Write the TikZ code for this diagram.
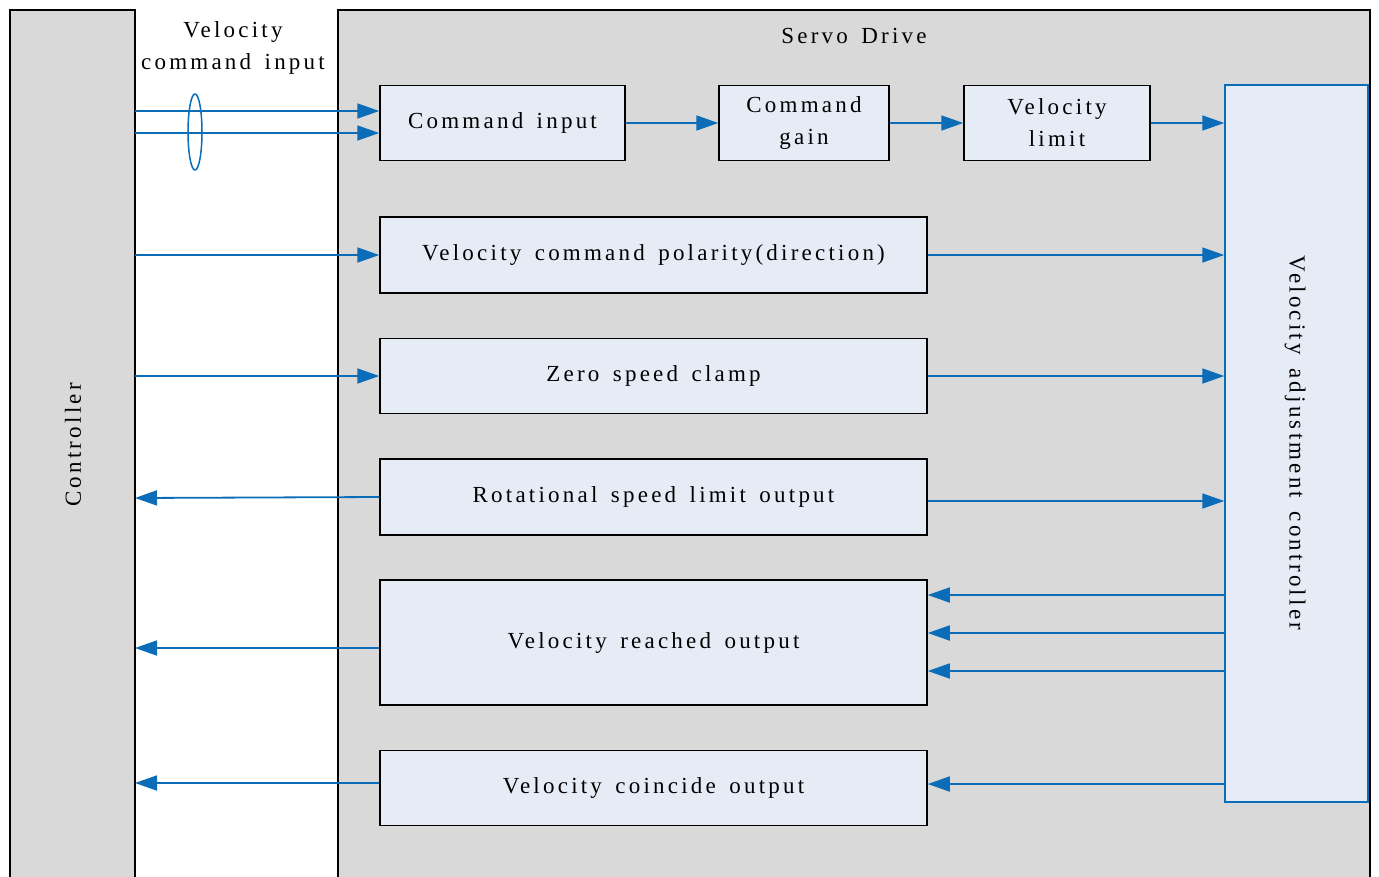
\documentclass[tikz,border=0pt]{standalone}
\usepackage{fontspec}
\setmainfont{Liberation Serif}[LetterSpace=14,WordSpace=1.5]
\usetikzlibrary{arrows.meta}
\definecolor{ablue}{HTML}{0B6DB7}
\definecolor{bfill}{HTML}{E6ECF6}
\definecolor{gfill}{HTML}{D9D9D9}
\tikzset{
  panel/.style={draw=black, line width=1.3pt, fill=gfill},
  blk/.style={draw=black, line width=1.5pt, fill=bfill, font=\fontsize{23}{32}\selectfont, align=center},
  sig/.style={draw=ablue, line width=1.8pt, -{Triangle[length=22pt,width=15pt]}},
  lbl/.style={font=\fontsize{23}{32}\selectfont, align=center}
}
\begin{document}
\begin{tikzpicture}[x=1pt,y=-1pt]
\useasboundingbox (0,0) rectangle (1379,876);
% panels
\draw[panel] (10,10) rectangle (135,890);
\draw[panel] (338,10) rectangle (1370,890);
\node[lbl, rotate=90] (ctrl) at (73,445) {Controller};
\node[lbl] (sd) at (854,36) {Servo Drive};
\node[lbl] (vci) at (233,48) {Velocity\\command input};
% blocks
\node[blk, minimum width=245pt, minimum height=75pt] (ci) at (502.5,123) {Command input};
\node[blk, minimum width=170pt, minimum height=75pt] (cg) at (804,123) {Command\\gain};
\node[blk, minimum width=186pt, minimum height=75pt] (vl) at (1057,123) {Velocity\\limit};
\node[blk, draw=ablue, minimum width=143pt, minimum height=717pt] (vac) at (1296.5,443.5) {};
\node[lbl, rotate=-90] (vact) at (1295,443) {Velocity adjustment controller};
\node[blk, minimum width=547pt, minimum height=76pt] (pol) at (653.5,255) {Velocity command polarity(direction)};
\node[blk, minimum width=547pt, minimum height=75pt] (zsc) at (653.5,376) {Zero speed clamp};
\node[blk, minimum width=547pt, minimum height=76pt] (rsl) at (653.5,497) {Rotational speed limit output};
\node[blk, minimum width=547pt, minimum height=125pt] (vro) at (653.5,642.5) {Velocity reached output};
\node[blk, minimum width=547pt, minimum height=75pt] (vco) at (653.5,788) {Velocity coincide output};
% coordinates on controller edge
\coordinate (c1) at (135,111);
\coordinate (c2) at (135,133);
\coordinate (c3) at (135,255);
\coordinate (c4) at (135,376);
\coordinate (c5) at (135,498);
\coordinate (c6) at (135,648);
\coordinate (c7) at (135,783);
% inputs
\draw[sig] (c1) -- (c1 -| ci.west);
\draw[sig] (c2) -- (c2 -| ci.west);
\draw[draw=ablue, line width=1.5pt] (195,132) ellipse (7pt and 38pt);
\draw[sig] (ci.east) -- (cg.west);
\draw[sig] (cg.east) -- (vl.west);
\draw[sig] (vl.east) -- (vl.east -| vac.west);
\draw[sig] (c3) -- (pol.west);
\draw[sig] (pol.east) -- (pol.east -| vac.west);
\draw[sig] (c4) -- (c4 -| zsc.west);
\draw[sig] (zsc.east) -- (zsc.east -| vac.west);
\draw[sig] (rsl.west) -- (c5);
\draw[sig] ([yshift=-4pt]rsl.east) -- ([yshift=-4pt]rsl.east -| vac.west);
\draw[sig] (vro.west |- c6) -- (c6);
\draw[sig] (vac.west |- 0,595) -- (vro.east |- 0,595);
\draw[sig] (vac.west |- 0,633) -- (vro.east |- 0,633);
\draw[sig] (vac.west |- 0,671) -- (vro.east |- 0,671);
\draw[sig] (vco.west |- c7) -- (c7);
\draw[sig] (vac.west |- 0,784) -- (vco.east |- 0,784);
\end{tikzpicture}
\end{document}
